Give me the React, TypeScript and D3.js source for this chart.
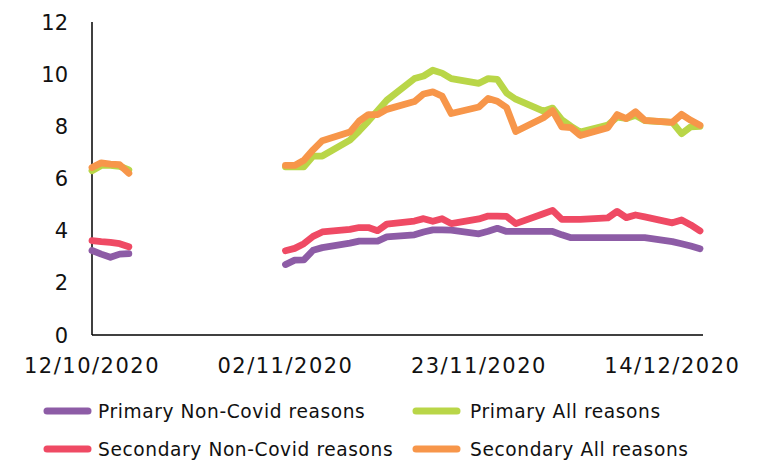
import React, { useEffect } from 'react';
import * as d3 from 'd3';

// school days only (weekends are joined, half term left as a gap)
const dates = [
  '12/10/2020', '13/10/2020', '14/10/2020', '15/10/2020', '16/10/2020', '19/10/2020',
  '02/11/2020', '03/11/2020', '04/11/2020', '05/11/2020', '06/11/2020',
  '09/11/2020', '10/11/2020', '11/11/2020', '12/11/2020', '13/11/2020',
  '16/11/2020', '17/11/2020', '18/11/2020', '19/11/2020', '20/11/2020',
  '23/11/2020', '24/11/2020', '25/11/2020', '26/11/2020', '27/11/2020',
  '30/11/2020', '01/12/2020', '02/12/2020', '03/12/2020', '04/12/2020',
  '07/12/2020', '08/12/2020', '09/12/2020', '10/12/2020', '11/12/2020',
  '14/12/2020', '15/12/2020', '16/12/2020', '17/12/2020',
];

const primaryNonCovid = [
  3.24, 3.1, 2.98, 3.1, 3.12, null,
  2.7, 2.87, 2.88, 3.25, 3.35,
  3.52, 3.6, 3.6, 3.6, 3.76,
  3.84, 3.95, 4.03, 4.03, 4.02,
  3.88, 3.98, 4.09, 3.97, 3.97,
  3.97, 3.97, 3.84, 3.73, 3.73,
  3.73, 3.73, 3.73, 3.73, 3.73,
  3.58, 3.5, 3.41, 3.31,
];

const primaryAll = [
  6.3, 6.5, 6.5, 6.47, 6.33, null,
  6.45, 6.45, 6.45, 6.86, 6.86,
  7.47, 7.82, 8.2, 8.6, 9.0,
  9.83, 9.93, 10.15, 10.04, 9.83,
  9.65, 9.83, 9.8, 9.28, 9.04,
  8.58, 8.7, 8.25, 8.0, 7.78,
  8.05, 8.35, 8.3, 8.42, 8.22,
  8.15, 7.72, 7.98, 8.0,
];

const secondaryNonCovid = [
  3.62, 3.58, 3.55, 3.5, 3.38, null,
  3.23, 3.32, 3.5, 3.78, 3.95,
  4.05, 4.12, 4.12, 4.0, 4.25,
  4.37, 4.46, 4.36, 4.46, 4.27,
  4.45, 4.56, 4.56, 4.55, 4.27,
  4.65, 4.78, 4.43, 4.43, 4.43,
  4.49, 4.74, 4.5, 4.6, 4.53,
  4.3, 4.41, 4.22, 3.99,
];

const secondaryAll = [
  6.42, 6.6, 6.55, 6.53, 6.2, null,
  6.5, 6.5, 6.7, 7.1, 7.45,
  7.78, 8.2, 8.45, 8.45, 8.65,
  8.95, 9.24, 9.32, 9.16, 8.49,
  8.74, 9.07, 8.96, 8.72, 7.8,
  8.33, 8.6, 7.98, 7.95, 7.65,
  7.95, 8.45, 8.3, 8.56, 8.23,
  8.15, 8.46, 8.23, 8.04,
];

const xTicks = ['12/10/2020', '02/11/2020', '23/11/2020', '14/12/2020'];
const yTicks = [0, 2, 4, 6, 8, 10, 12];

const series = [
  { name: 'Primary Non-Covid reasons', values: primaryNonCovid, color: '#8d5ca6' },
  { name: 'Primary All reasons', values: primaryAll, color: '#b9d648' },
  { name: 'Secondary Non-Covid reasons', values: secondaryNonCovid, color: '#ef4a64' },
  { name: 'Secondary All reasons', values: secondaryAll, color: '#f7964a' },
];

const parseDate = d3.timeParse('%d/%m/%Y');
const font = '"DejaVu Sans", sans-serif';

const App = () => {
  useEffect(() => {
    document.body.style.margin = '0';
  }, []);

  const x = d3.scaleTime()
    .domain([parseDate('12/10/2020'), parseDate('17/12/2020')])
    .range([92, 700]);

  const y = d3.scaleLinear().domain([0, 12]).range([335, 22]);

  const line = d3.line<any>()
    .defined(d => d.v != null)
    .x(d => x(d.date))
    .y(d => y(d.v));

  // legend layout: two columns, two rows
  const legendPos = [
    { lx: 47, tx: 98, ly: 411 },
    { lx: 416, tx: 470, ly: 411 },
    { lx: 47, tx: 98, ly: 449 },
    { lx: 416, tx: 470, ly: 449 },
  ];

  return (
    <svg width={762} height={460} style={{ display: 'block' }}>
      <rect width={762} height={460} fill="#fff" />

      {/* axes */}
      <line x1={92} x2={92} y1={y(12)} y2={y(0)} stroke="#000" strokeWidth={1.5} />
      <line x1={92} x2={703} y1={y(0)} y2={y(0)} stroke="#000" strokeWidth={1.5} />

      {yTicks.map(t => (
        <text key={t} x={68} y={y(t)} dy="0.36em" textAnchor="end"
          fontFamily={font} fontSize={21} fill="#111">{t}</text>
      ))}

      {xTicks.map(t => (
        <text key={t} x={x(parseDate(t))} y={373} textAnchor="middle"
          fontFamily={font} fontSize={21} letterSpacing={1.5} fill="#111">{t}</text>
      ))}

      {series.map(s => {
        const pts = dates.map((d, i) => ({ date: parseDate(d), v: s.values[i] }));
        return (
          <path key={s.name} d={line(pts)} fill="none" stroke={s.color}
            strokeWidth={6.8} strokeLinejoin="round" strokeLinecap="round" />
        );
      })}

      {series.map((s, i) => {
        const { lx, tx, ly } = legendPos[i];
        return (
          <g key={s.name}>
            <line x1={lx} x2={lx + 41} y1={ly} y2={ly} stroke={s.color}
              strokeWidth={7} strokeLinecap="round" />
            <text x={tx} y={ly} dy="0.36em" fontFamily={font} fontSize={18.6}
              letterSpacing={0.6} fill="#111">{s.name}</text>
          </g>
        );
      })}
    </svg>
  );
};

export default App;
